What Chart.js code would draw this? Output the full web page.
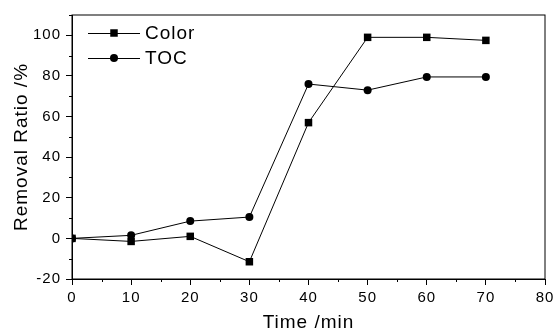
<!DOCTYPE html>
<html>
<head>
<meta charset="utf-8">
<script src="https://cdn.jsdelivr.net/npm/chart.js@4/dist/chart.umd.min.js"></script>
<style>
  html, body { margin: 0; padding: 0; background: #fff; }
  #wrap { width: 555px; height: 330px; }
</style>
</head>
<body>
<div id="wrap"><canvas id="c"></canvas></div>
<script>
// data
const times = [0, 10, 20, 30, 40, 50, 60, 70];
const colorRemoval = [0, -1.5, 1, -11.5, 57, 99, 99, 97.5];
const tocRemoval = [0, 1.5, 8.5, 10.5, 76, 73, 79.5, 79.5];
const xTicks = [0, 10, 20, 30, 40, 50, 60, 70, 80];
const yTicks = [-20, 0, 20, 40, 60, 80, 100];

const FONT = 'Liberation Sans, Arial, sans-serif';

const toPts = (ys) => times.map((t, i) => ({ x: t, y: ys[i] }));

// the scanned figure's lettering is a bit wider than Arial
const spacing = {
  id: 'spacing',
  beforeLayout(chart) { chart.ctx.letterSpacing = '1px'; },
  beforeDraw(chart) { chart.ctx.letterSpacing = '1px'; }
};

// frame + minor ticks + inset legend
const extras = {
  id: 'extras',
  afterDraw(chart) {
    const { ctx, chartArea: a, scales } = chart;
    ctx.save();
    ctx.strokeStyle = '#000';
    ctx.lineWidth = 1;
    ctx.strokeRect(a.left, a.top, a.right - a.left, a.bottom - a.top);

    // minor ticks
    ctx.beginPath();
    for (let v = 5; v < 80; v += 10) {
      const px = Math.round(scales.x.getPixelForValue(v)) + 0.5;
      ctx.moveTo(px, a.bottom);
      ctx.lineTo(px, a.bottom + 3);
    }
    for (let v = -10; v <= 110; v += 20) {
      const py = Math.round(scales.y.getPixelForValue(v)) + 0.5;
      ctx.moveTo(a.left, py);
      ctx.lineTo(a.left - 3, py);
    }
    ctx.stroke();

    // legend
    const items = chart.data.datasets;
    items.forEach((ds, i) => {
      const y = a.top + 18 + i * 25;
      ctx.beginPath();
      ctx.moveTo(a.left + 16, y + 0.5);
      ctx.lineTo(a.left + 68, y + 0.5);
      ctx.stroke();
      Chart.helpers.drawPoint(ctx, {
        pointStyle: ds.pointStyle,
        radius: ds.pointRadius,
        borderWidth: 0
      }, a.left + 42, y);
      ctx.fillStyle = '#000';
      ctx.font = '19px ' + FONT;
      ctx.textBaseline = 'middle';
      ctx.fillText(ds.label, a.left + 73, y + 1);
    });
    ctx.restore();
  }
};

new Chart(document.getElementById('c'), {
  type: 'line',
  data: {
    datasets: [
      {
        label: 'Color',
        data: toPts(colorRemoval),
        borderColor: '#000',
        backgroundColor: '#000',
        borderWidth: 1,
        pointStyle: 'rect',
        pointRadius: 5.3,
        pointBorderWidth: 0
      },
      {
        label: 'TOC',
        data: toPts(tocRemoval),
        borderColor: '#000',
        backgroundColor: '#000',
        borderWidth: 1,
        pointStyle: 'circle',
        pointRadius: 4,
        pointBorderWidth: 0
      }
    ]
  },
  options: {
    responsive: true,
    maintainAspectRatio: false,
    animation: false,
    layout: { padding: { top: 15, right: 10, left: 0, bottom: 0 } },
    plugins: { legend: { display: false }, tooltip: { enabled: false } },
    scales: {
      x: {
        type: 'linear',
        min: 0,
        max: 80,
        afterBuildTicks: (s) => { s.ticks = xTicks.map(v => ({ value: v })); },
        afterFit: (s) => { s.height = 51; s.paddingLeft = 0; s.paddingRight = 0; },
        grid: { drawOnChartArea: false, drawTicks: true, tickLength: 6, color: '#000' },
        border: { display: true, color: '#000', width: 1 },
        ticks: { color: '#000', font: { family: FONT, size: 15 }, padding: 4, maxRotation: 0 },
        title: { display: true, text: 'Time /min', color: '#000', font: { family: FONT, size: 19 }, padding: { top: 0, bottom: -4 } }
      },
      y: {
        min: -20,
        max: 110,
        afterBuildTicks: (s) => { s.ticks = yTicks.map(v => ({ value: v })); },
        afterFit: (s) => { s.width = 72; s.paddingTop = 0; s.paddingBottom = 0; },
        grid: { drawOnChartArea: false, drawTicks: true, tickLength: 6, color: '#000' },
        border: { display: true, color: '#000', width: 1 },
        ticks: { color: '#000', font: { family: FONT, size: 15 }, padding: 5 },
        title: { display: true, text: 'Removal Ratio /%', color: '#000', font: { family: FONT, size: 19 }, padding: { top: 10, bottom: 0 } }
      }
    }
  },
  plugins: [spacing, extras]
});
</script>
</body>
</html>
